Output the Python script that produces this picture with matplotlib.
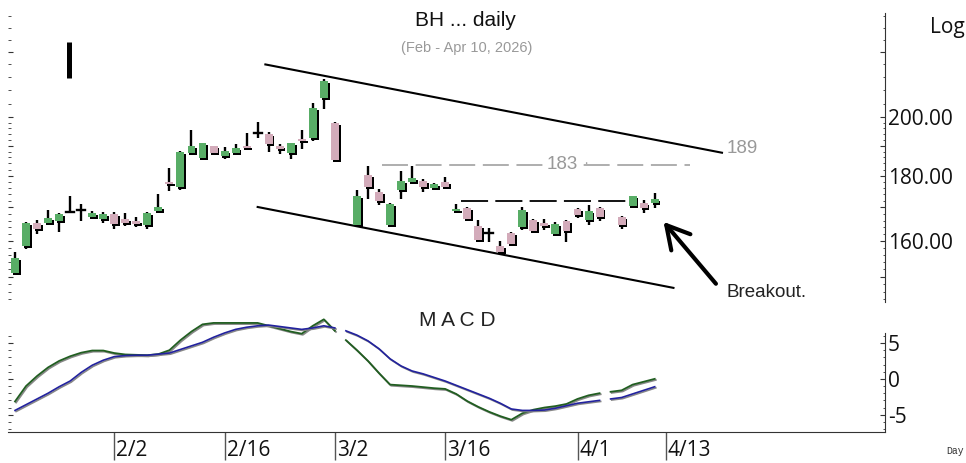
import numpy as np
import matplotlib
matplotlib.use('Agg')
import matplotlib.pyplot as plt
import matplotlib.patheffects as pe
from matplotlib.patches import Rectangle
from matplotlib.ticker import FixedLocator, FuncFormatter, NullFormatter

plt.rcParams['font.family'] = ['Open Sans', 'DejaVu Sans']
plt.rcParams['axes.unicode_minus'] = False

# trading-day index of every bar (two days have no bar)
day = list(range(0, 30)) + list(range(31, 54)) + list(range(55, 59))
opn = [151.0, 158.6, 165.3, 165.3, 165.9, 168.6, 169.2, 167.1, 166.5, 168.0,
       166.5, 165.9, 164.7, 168.9, 178.0, 176.4, 187.5, 185.8, 189.9, 186.5,
       187.5, 189.9, 194.4, 194.1, 189.9, 187.5, 192.3, 192.7, 207.1, 198.0,
       164.7, 180.2, 174.8, 164.7, 175.4, 178.0, 178.3, 176.1, 178.0, 168.9,
       169.8, 164.4, 162.3, 158.6, 162.3, 164.1, 166.2, 165.3, 162.0, 165.9,
       169.5, 166.2, 169.8, 167.1, 170.4, 171.4, 171.4]
high = [156.9, 165.6, 166.2, 169.2, 168.3, 173.5, 171.0, 168.9, 168.6, 168.6,
        168.3, 167.1, 168.6, 174.2, 182.5, 188.2, 195.5, 190.9, 189.9, 189.6,
        190.6, 194.4, 198.3, 194.8, 190.6, 190.9, 195.5, 205.2, 214.3, 198.3,
        175.4, 183.2, 175.7, 171.4, 181.5, 183.2, 178.9, 177.6, 179.6, 171.0,
        170.1, 166.2, 163.8, 160.0, 162.6, 170.1, 166.5, 166.5, 165.6, 166.2,
        169.8, 170.7, 170.1, 167.4, 173.5, 172.3, 174.5]
low = [150.5, 157.7, 162.0, 164.7, 162.6, 168.3, 165.9, 166.5, 165.3, 163.5,
       164.4, 164.1, 163.5, 168.6, 175.1, 175.4, 187.5, 185.8, 186.9, 185.5,
       187.2, 188.5, 192.7, 187.9, 187.2, 185.5, 188.9, 191.6, 203.0, 185.2,
       164.4, 172.6, 170.7, 164.1, 172.6, 177.6, 174.8, 175.4, 176.1, 168.6,
       165.9, 160.3, 159.7, 156.9, 158.6, 163.2, 162.3, 163.2, 161.5, 159.7,
       166.8, 164.7, 165.9, 163.5, 170.4, 168.3, 169.8]
close = [155.2, 165.3, 163.5, 166.8, 168.0, 168.6, 169.2, 168.3, 168.0, 165.0,
         165.3, 165.0, 168.3, 170.1, 177.3, 187.9, 189.9, 190.9, 187.5, 188.2,
         189.2, 189.2, 194.4, 190.6, 188.9, 190.9, 191.6, 203.4, 213.5, 185.2,
         173.5, 176.4, 172.0, 171.0, 178.3, 179.3, 176.4, 177.3, 176.4, 169.5,
         166.5, 160.3, 162.3, 156.9, 159.1, 169.2, 162.9, 164.4, 165.0, 162.9,
         167.7, 168.9, 167.1, 164.7, 173.5, 169.8, 172.6]

# MACD and signal, one value per trading day 0..58
macd = [-3.15, -1.0, 0.4, 1.6, 2.5, 3.15, 3.65, 3.95, 3.95, 3.6,
        3.4, 3.35, 3.3, 3.45, 4.0, 5.4, 6.6, 7.6, 7.8, 7.8,
        7.8, 7.8, 7.8, 7.4, 7.0, 6.6, 6.3, 7.4, 8.3, 6.7,
        5.4, 4.0, 2.5, 0.8, -0.8, -0.9, -1.0, -1.15, -1.3, -1.4,
        -2.1, -3.1, -3.9, -4.6, -5.2, -5.7, -4.8, -4.3, -4.0, -3.8,
        -3.5, -2.8, -2.3, -2.0, -1.8, -1.6, -0.8, -0.4, 0.0]
signal = [-4.4, -3.6, -2.8, -2.0, -1.1, -0.3, 0.9, 1.9, 2.6, 3.1,
          3.25, 3.3, 3.3, 3.45, 3.6, 4.1, 4.6, 5.1, 5.8, 6.4,
          6.9, 7.2, 7.4, 7.5, 7.3, 7.1, 6.9, 7.1, 7.4, 7.1,
          6.7, 6.1, 5.3, 4.2, 2.8, 1.8, 1.1, 0.7, 0.2, -0.3,
          -0.9, -1.5, -2.1, -2.7, -3.4, -4.2, -4.4, -4.4, -4.35, -4.1,
          -3.75, -3.4, -3.2, -3.0, -2.8, -2.6, -2.1, -1.6, -1.1]
macd_gaps = [29, 53]   # no segment drawn after these days

date_pos = [9, 19, 29, 39, 51, 59]
date_lbl = ['2/2', '2/16', '3/2', '3/16', '4/1', '4/13']

# drawn annotations (day index, price)
upper_x, upper_y = [22.7, 64.1], [220.0, 187.6]
lower_x, lower_y = [22.0, 59.7], [170.1, 147.0]
res_hi, res_hi_x = 183.5, [33.3, 61.2]
res_lo, res_lo_x = 171.8, [40.4, 55.5]
arrow_head, arrow_tail = (58.8, 165.6), (63.55, 148.1)

GREEN = '#58ad66'
PINK = '#d3abba'

fig = plt.figure(figsize=(9.66, 4.63), dpi=100)
L, R = 8 / 966, 885 / 966
ax = fig.add_axes([L, 1 - 302 / 463, R - L, 289 / 463])
ax2 = fig.add_axes([L, 1 - 432 / 463, R - L, 127 / 463])
for a in (ax, ax2):
    a.set_xlim(-0.635, 78.88)
    for s in ('top', 'left'):
        a.spines[s].set_visible(False)
    a.spines['right'].set_color('#333333')

# ---- price panel
ax.set_yscale('log')
ax.set_ylim(143.3, 241.4)
ax.spines['bottom'].set_visible(False)
ax.set_xticks([])

w = 0.72
for d, o, h, l, c in zip(day, opn, high, low, close):
    ax.plot([d, d], [l, h], color='k', lw=1.7, solid_capstyle='butt', zorder=2)
    if o == c:
        ax.plot([d - w / 2, d + w / 2], [o, o], color='k', lw=1.7, zorder=3)
        continue
    rect = Rectangle((d - w / 2, min(o, c)), w, abs(c - o),
                     facecolor=GREEN if c > o else PINK, edgecolor='none', zorder=3)
    rect.set_path_effects([pe.SimplePatchShadow(offset=(1.3, -1.3), shadow_rgbFace='k', alpha=1),
                           pe.Normal()])
    ax.add_patch(rect)

ax.plot(upper_x, upper_y, color='k', lw=1.5)
ax.plot(lower_x, lower_y, color='k', lw=1.5)
ax.plot(res_hi_x, [res_hi, res_hi], color='#999999', lw=1.1, linestyle=(0, (17, 5)))
ax.plot(res_lo_x, [res_lo, res_lo], color='k', lw=1.3, linestyle=(0, (15, 4)))
ax.text(49.6, res_hi, '183', ha='center', va='center', fontsize=13.5, color='#999999',
        family='Liberation Sans', bbox=dict(fc='white', ec='none', pad=2.5), zorder=4)
ax.text(51.77, res_hi, '·', ha='center', va='center', fontsize=9, color='#999999', zorder=5)
ax.text(64.5, 188.9, '189', ha='left', va='center', fontsize=13.5, color='#999999',
        family='Liberation Sans')
ax.annotate('', xy=arrow_head, xytext=arrow_tail,
            arrowprops=dict(arrowstyle='->,head_length=0.9,head_width=0.5', lw=3,
                            color='k', mutation_scale=18, shrinkA=0, shrinkB=0))
ax.text(64.55, 145.7, 'Breakout.', ha='left', va='center', fontsize=13.5,
        color='#222222', family='Liberation Sans')
ax.plot([4.94, 4.94], [214.7, 229.1], color='k', lw=3.6, solid_capstyle='butt')

ax.yaxis.set_major_locator(FixedLocator([150, 160, 170, 180, 190, 200, 225]))
ax.yaxis.set_major_formatter(FuncFormatter(
    lambda v, p: '%.2f' % v if round(v) in (160, 180, 200) else ''))
minor = [v for v in range(144, 200, 2) if v not in (150, 160, 170, 180, 190)]
minor += [205, 210, 215, 220, 230, 235, 240]
ax.yaxis.set_minor_locator(FixedLocator(minor))
ax.yaxis.set_minor_formatter(NullFormatter())
ax.tick_params(axis='y', which='both', left=True, right=True, labelleft=False,
               labelright=True, direction='in', color='#333333')
ax.tick_params(axis='y', which='major', length=3.5, labelsize=15, pad=2, labelcolor='#111111')
ax.tick_params(axis='y', which='minor', length=1.8)

# ---- MACD panel
ax2.set_ylim(-7.41, 10.3)
ax2.spines['right'].set_bounds(-7.41, 6.4)
ax2.spines['bottom'].set_color('#333333')
xs, ym, ys = [], [], []
for i in range(len(macd)):
    xs.append(i); ym.append(macd[i]); ys.append(signal[i])
    if i in macd_gaps:
        xs.append(i + 0.5); ym.append(np.nan); ys.append(np.nan)
shadow = [pe.SimpleLineShadow(offset=(0.8, -0.8), shadow_color='#888888', alpha=1), pe.Normal()]
ax2.plot(xs, ym, color='#215e21', lw=1.3, path_effects=shadow)
ax2.plot(xs, ys, color='#22229e', lw=1.2, path_effects=shadow)

ax2.yaxis.set_major_locator(FixedLocator([-5, 0, 5]))
ax2.yaxis.set_major_formatter(FuncFormatter(lambda v, p: '%d' % v))
ax2.yaxis.set_minor_locator(FixedLocator([v for v in range(-7, 7) if v % 5]))
ax2.tick_params(axis='y', which='both', left=True, right=True, labelleft=False,
                labelright=True, direction='in', color='#333333')
ax2.tick_params(axis='y', which='major', length=3.5, labelsize=15, pad=2, labelcolor='#111111')
ax2.tick_params(axis='y', which='minor', length=1.8)

ax2.set_xticks(date_pos)
ax2.set_xticklabels([])
ax2.tick_params(axis='x', length=20, width=1, direction='out', color='#555555')
for p, s in zip(date_pos, date_lbl):
    ax2.annotate(s, xy=(p, 0), xycoords=ax2.get_xaxis_transform(), xytext=(1.5, -13),
                 textcoords='offset points', ha='left', va='center', fontsize=15,
                 color='#111111')

# ---- texts
fig.text(465 / 966, 1 - 21 / 463, 'BH ... daily', ha='center', va='center',
         fontsize=15, family='Liberation Sans', color='#111111')
fig.text(467 / 966, 1 - 48 / 463, '(Feb - Apr 10, 2026)', ha='center', va='center',
         fontsize=10.5, family='Liberation Sans', color='#999999')
fig.text(930 / 966, 1 - 28 / 463, 'Log', ha='left', va='center', fontsize=15, color='#111111')
fig.text(457 / 966, 1 - 321 / 463, 'M A C D', ha='center', va='center', fontsize=15,
         family='Liberation Sans', color='#222222')
fig.text(946 / 966, 1 - 451 / 463, 'Day', ha='left', va='center', fontsize=7,
         family='Liberation Mono', color='#333333')

fig.savefig('out.png', dpi=100)
